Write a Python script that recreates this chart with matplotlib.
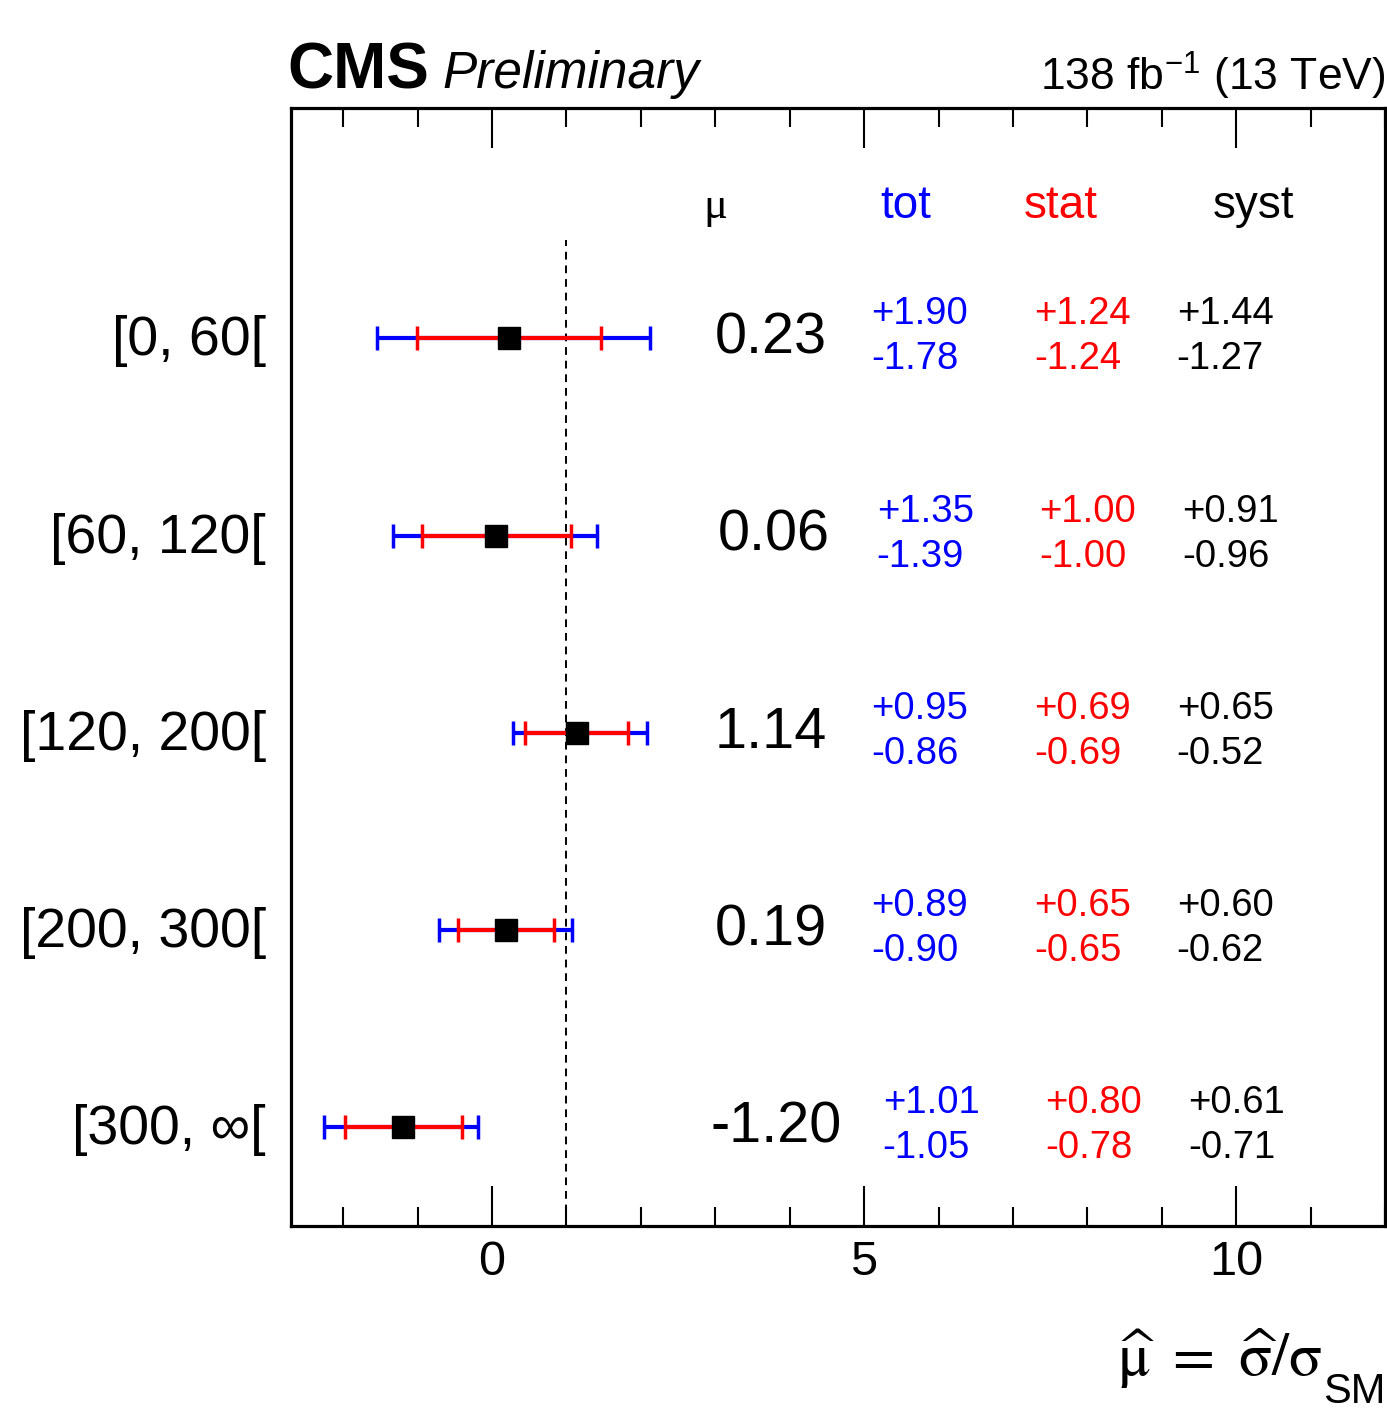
'''
    CMS signal strength per pT bin
'''
import numpy as np
import matplotlib
matplotlib.use('Agg')
import matplotlib.pyplot as plt
from matplotlib.ticker import FixedLocator, MultipleLocator

plt.rcParams['font.family'] = ['Liberation Sans', 'DejaVu Sans']
plt.rcParams['mathtext.fontset'] = 'custom'
plt.rcParams['mathtext.rm'] = 'Liberation Sans'
plt.rcParams['mathtext.it'] = 'Liberation Sans:italic'
plt.rcParams['mathtext.sf'] = 'Liberation Sans'

# bins, top to bottom
bins = ['[0, 60[', '[60, 120[', '[120, 200[', '[200, 300[', '[300, \u221e[']
mu = [0.23, 0.06, 1.14, 0.19, -1.20]
tot_up = [1.90, 1.35, 0.95, 0.89, 1.01]
tot_dn = [1.78, 1.39, 0.86, 0.90, 1.05]
stat_up = [1.24, 1.00, 0.69, 0.65, 0.80]
stat_dn = [1.24, 1.00, 0.69, 0.65, 0.78]
syst_up = [1.44, 0.91, 0.65, 0.60, 0.61]
syst_dn = [1.27, 0.96, 0.52, 0.62, 0.71]

n = len(bins)
ypos = np.arange(n, 0, -1)

fig = plt.figure(figsize=(13.87, 14.11), dpi=100)
ax = fig.add_axes([0.2098, 0.1311, 0.7888, 0.7924])

# SM line
ax.plot([1, 1], [0.5, n + 0.5], color='black', lw=1.4, ls=(0, (4, 3)), zorder=1)

ax.errorbar(mu, ypos, xerr=[tot_dn, tot_up], fmt='none', ecolor='blue',
            elinewidth=3, capsize=8.5, capthick=2.5, zorder=2)
ax.errorbar(mu, ypos, xerr=[stat_dn, stat_up], fmt='none', ecolor='red',
            elinewidth=3, capsize=8.5, capthick=2.5, zorder=3)
ax.plot(mu, ypos, 's', color='black', ms=16, zorder=4)

# small horizontal shifts of the text columns, as in the original
shift = [0.0, 0.07, 0.0, 0.0, 0.15]

# numbers
for i in range(n):
    y = ypos[i]
    ax.text(3.75 + shift[i] * 0.5, y - 0.076, f'{mu[i]:.2f}', ha='center', va='baseline', fontsize=41.5)
    ax.text(-3.04, y - 0.086, bins[i], ha='right', va='baseline', fontsize=40, clip_on=False)
    for x, up, dn, c in [(5.1, tot_up, tot_dn, 'blue'),
                         (7.28, stat_up, stat_dn, 'red'),
                         (9.2, syst_up, syst_dn, 'black')]:
        ax.text(x + shift[i], y + 0.071, f'+{up[i]:.2f}', color=c, ha='left', va='baseline', fontsize=27.5)
        ax.text(x + shift[i], y - 0.157, f'-{dn[i]:.2f}', color=c, ha='left', va='baseline', fontsize=27.5)

# column headers
yh = n + 0.609
ax.text(3.0, yh, '\u03bc', ha='center', va='baseline', fontsize=32, family='Liberation Serif')
ax.text(5.56, yh, 'tot', color='blue', ha='center', va='baseline', fontsize=33)
ax.text(7.64, yh, 'stat', color='red', ha='center', va='baseline', fontsize=33)
ax.text(10.23, yh, 'syst', color='black', ha='center', va='baseline', fontsize=33)

ax.set_xlim(-2.7, 12)
ax.set_ylim(0.5, n + 1.1675)
ax.xaxis.set_major_locator(FixedLocator([0, 5, 10]))
ax.xaxis.set_minor_locator(MultipleLocator(1))
ax.tick_params(axis='x', which='both', direction='in', top=True, bottom=True,
               labelsize=35, pad=10)
ax.tick_params(axis='x', which='major', length=29, width=1.5)
ax.tick_params(axis='x', which='minor', length=14, width=1.5)
ax.set_yticks([])
for s in ax.spines.values():
    s.set_linewidth(2.3)

fig.text(0.207, 0.9376, 'CMS', fontsize=46, fontweight='bold', ha='left', va='baseline')
fig.text(0.319, 0.9376, 'Preliminary', fontsize=37, style='italic', ha='left', va='baseline')
fig.text(0.9986, 0.936, r'138 fb$^{-1}$ (13 TeV)', fontsize=32, ha='right', va='baseline')

# x axis title: greek part in stix, subscript SM in sans
sm = fig.text(0.9986, 0.006, 'SM', fontsize=30, ha='right', va='baseline')
fig.canvas.draw()
bb = sm.get_window_extent()
fig.text(bb.x0 / fig.bbox.width, 0.025,
         r'$\widehat{\mathrm{\mu}}\ =\ \widehat{\mathrm{\sigma}}/\mathrm{\sigma}$',
         fontsize=44, ha='right', va='baseline', math_fontfamily='stix')

fig.savefig('out.png', dpi=100)
